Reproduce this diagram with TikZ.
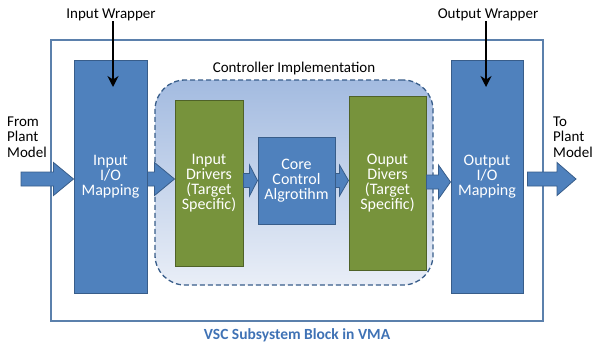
\documentclass[tikz,border=0pt]{standalone}
\usepackage{fontspec}
\setmainfont{Carlito}
\usepackage{tikz}
\usetikzlibrary{positioning,calc,arrows.meta}
\definecolor{boxblue}{HTML}{4F81BD}
\definecolor{boxblueline}{HTML}{385D8A}
\definecolor{drvgreen}{HTML}{77933C}
\definecolor{drvgreenline}{HTML}{4F6228}
\definecolor{ctrltop}{HTML}{A3BBE0}
\definecolor{ctrlbot}{HTML}{E9EEF7}
\definecolor{framecol}{HTML}{5B80AC}
\definecolor{footcol}{HTML}{3F72B5}
\tikzset{
  block/.style={rectangle,draw=#1line,fill=#1,line width=1pt,text=white,
    font=\fontsize{16}{15}\selectfont,align=center,inner sep=0pt},
  block/.default={boxblue},
  ctrlregion/.style={rectangle,rounded corners=30pt,draw=boxblueline,dashed,
    dash pattern=on 5pt off 3pt,line width=1.3pt,top color=ctrltop,bottom color=ctrlbot},
  frame/.style={rectangle,draw=framecol,line width=1.2pt,fill=white},
  lbl/.style={font=\fontsize{15}{15.5}\selectfont,text=black,inner sep=0pt},
  wraparrow/.style={-{Stealth[length=11pt,width=11pt]},line width=2.6pt},
  blockarrow/.style 2 args={draw=boxblueline,fill=boxblue,line width=0.8pt,
    to path={let \p1=(\tikztostart),\p2=(\tikztotarget) in
      (\x1,\y1+7pt) -- (\x2-#1,\y1+7pt) -- (\x2-#1,\y1+#2) -- (\x2,\y1)
      -- (\x2-#1,\y1-#2) -- (\x2-#1,\y1-7pt) -- (\x1,\y1-7pt) -- cycle}},
}
\begin{document}
\begin{tikzpicture}[x=1pt,y=-1pt]
  \useasboundingbox (0,0) rectangle (593,343);
  % outer frame and controller area
  \node[frame,minimum width=492pt,minimum height=281pt] (frame) at (297,180.5) {};
  \node[ctrlregion,minimum width=278pt,minimum height=205pt] (ctrl) at (294,182.5) {};
  \node[lbl,anchor=south,yshift=4pt] (ctrllbl) at (ctrl.north) {Controller Implementation};
  % blocks
  \node[block,minimum width=73pt,minimum height=233pt] (iom) at (110.5,176.5) {Input\\I/O\\Mapping};
  \node[block=drvgreen,minimum width=68pt,minimum height=166pt,right=27pt of iom,yshift=-6.5pt] (idrv) {Input\\Drivers\\(Target\\Specific)};
  \node[block,minimum width=77pt,minimum height=87pt,right=14pt of idrv,yshift=2.5pt] (core) {Core\\Control\\Algrotihm};
  \node[block=drvgreen,minimum width=77pt,minimum height=174pt,right=13pt of core,yshift=-2.5pt] (odrv) {Ouput\\Divers\\(Target\\Specific)};
  \node[block,minimum width=72pt,minimum height=233pt,right=24pt of odrv,yshift=6.5pt] (oom) {Output\\I/O\\Mapping};
  % outside labels
  \node[lbl] (inwrap) at (111,15) {Input Wrapper};
  \node[lbl] (outwrap) at (488,15) {Output Wrapper};
  \node[lbl,anchor=west,align=left] (from) at (7,137) {From\\Plant\\Model};
  \node[lbl,anchor=west,align=left] (to) at (553,137) {To\\Plant\\Model};
  \node[lbl,font=\fontsize{15.5}{15}\selectfont\bfseries,text=footcol,below=7pt of frame] (foot) {VSC Subsystem Block in VMA};
  \coordinate (inwrapend) at (113,87);
  \coordinate (outwrapend) at (486,87);
  \coordinate (frm) at (21,179);
  \coordinate (tom) at (576,179);
  % connectors
  \draw[wraparrow] (inwrap.south -| inwrapend) -- (inwrapend);
  \draw[wraparrow] (outwrap.south -| outwrapend) -- (outwrapend);
  \path[blockarrow={20pt}{16.5pt}] (frm) to (iom.west);
  \path[blockarrow={20pt}{16.5pt}] ([yshift=-2.5pt]iom.east) to (idrv.west);
  \path[blockarrow={8pt}{15.5pt}] ([yshift=2.5pt]idrv.east) to (core.west);
  \path[blockarrow={9pt}{15.5pt}] (core.east) to (odrv.west);
  \path[blockarrow={12pt}{17pt}] ([yshift=1pt]odrv.east) to (oom.west);
  \path[blockarrow={19pt}{16.5pt}] ([xshift=4pt,yshift=-2.5pt]oom.east) to (tom);
\end{tikzpicture}
\end{document}
